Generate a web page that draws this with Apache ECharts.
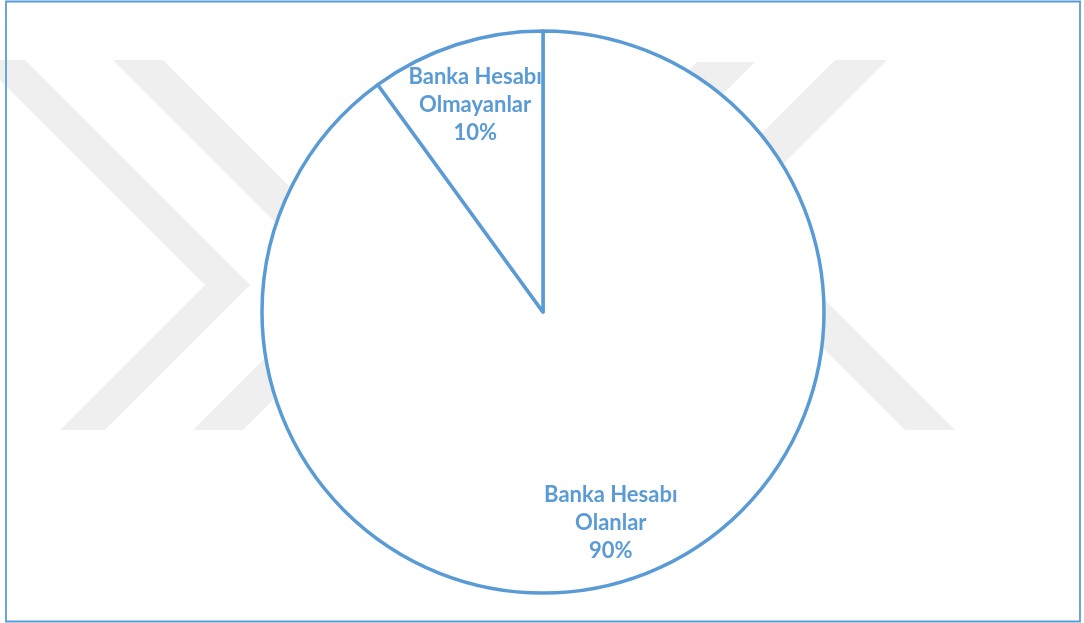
<!DOCTYPE html>
<html>
<head>
<meta charset="utf-8">
<style>
  html, body { margin: 0; padding: 0; background: #ffffff; }
  #chart { width: 1084px; height: 623px; }
</style>
<script src="https://cdn.jsdelivr.net/npm/echarts@6/dist/echarts.min.js"></script>
</head>
<body>
<div id="chart"></div>
<script>
// Share of respondents with / without a bank account
const categories = ['Banka Hesabı Olanlar', 'Banka Hesabı Olmayanlar'];
const labelLines = [['Banka Hesabı', 'Olanlar'], ['Banka Hesabı', 'Olmayanlar']];
const shares = [90, 10];

const BLUE = '#5b9bd5';
const WM = '#efefef';

const pieData = categories.map((name, i) => ({ name: name, value: shares[i] }));

const chart = echarts.init(document.getElementById('chart'), null, { renderer: 'canvas' });

// Background stripes of the page watermark (decoration only)
const stripes = [
  [[-20, 60], [25, 60], [250, 285], [105, 430], [60, 430], [205, 285]],
  [[113, 60], [163, 60], [388, 285], [243, 430], [193, 430], [338, 285]],
  [[697, 62], [755, 62], [617, 200], [559, 200]],
  [[835, 60], [887, 60], [747, 200], [695, 200]],
  [[765, 290], [815, 290], [955, 430], [905, 430]]
];

const R = 281;

chart.setOption({
  backgroundColor: '#ffffff',
  animation: false,
  graphic: [
    ...stripes.map(pts => ({
      type: 'polygon',
      z: 0,
      silent: true,
      shape: { points: pts },
      style: { fill: WM }
    })),
    {
      type: 'rect',
      z: 10,
      silent: true,
      shape: { x: 6, y: 1.5, width: 1074, height: 620 },
      style: { fill: 'none', stroke: BLUE, lineWidth: 1.8 }
    }
  ],
  series: [
    {
      type: 'pie',
      z: 2,
      center: [543, 312],
      radius: [0, R],
      startAngle: 90,
      clockwise: true,
      silent: true,
      data: pieData,
      itemStyle: { color: '#ffffff', borderColor: BLUE, borderWidth: 3.5 },
      label: { show: false },
      labelLine: { show: false }
    },
    {
      // ring carrying the in-slice labels at about three quarters of the radius
      type: 'pie',
      z: 3,
      center: [543, 314],
      radius: [Math.round(R * 0.54), R],
      startAngle: 90,
      clockwise: true,
      silent: true,
      data: pieData,
      itemStyle: { color: 'rgba(0,0,0,0)', borderWidth: 0 },
      label: {
        show: true,
        position: 'inside',
        color: BLUE,
        fontFamily: 'Lato',
        fontWeight: 'bold',
        fontSize: 22,
        lineHeight: 28,
        align: 'center',
        formatter: p => labelLines[p.dataIndex].join('\n') + '\n' + p.value + '%'
      },
      labelLine: { show: false }
    }
  ]
});
</script>
</body>
</html>
